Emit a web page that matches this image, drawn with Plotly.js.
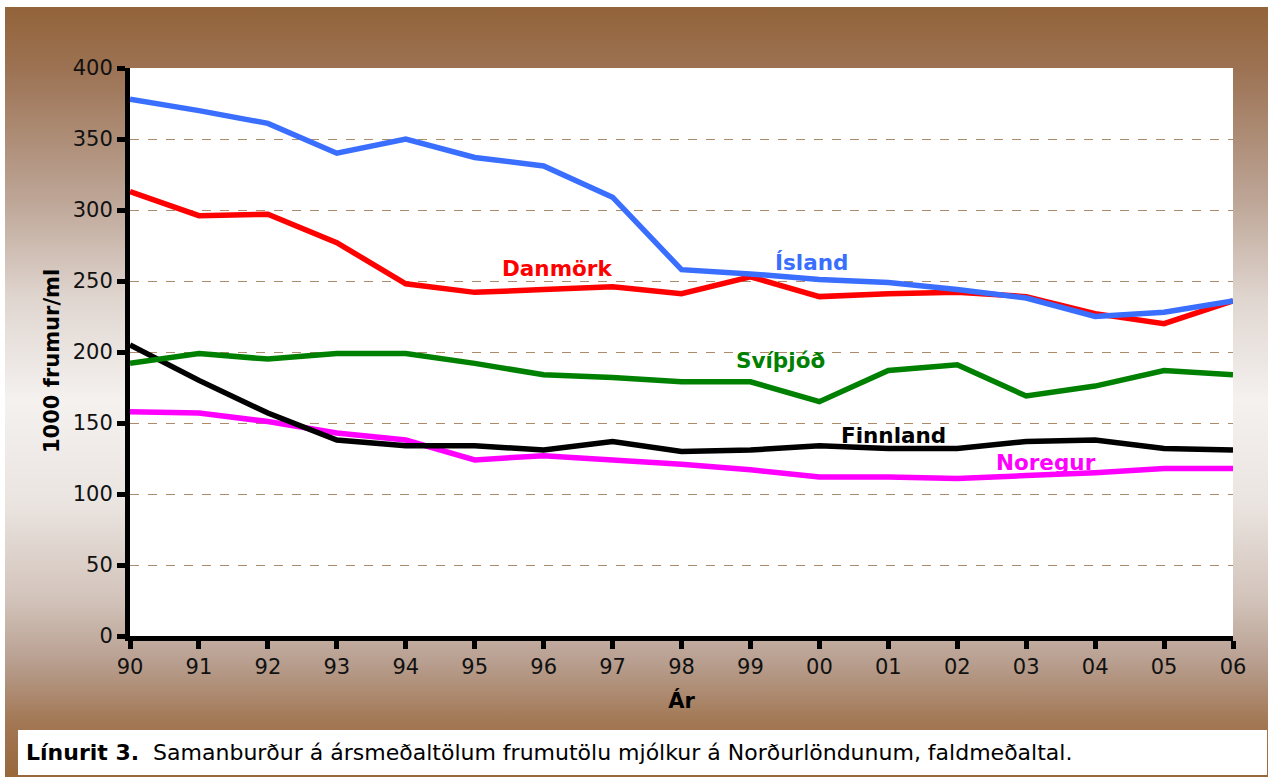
<!DOCTYPE html>
<html>
<head>
<meta charset="utf-8">
<script src="https://cdn.plot.ly/plotly-3.0.1.min.js"></script>
<style>
  html, body { margin:0; padding:0; background:#ffffff; width:1272px; height:781px; overflow:hidden; }
  #bg { position:absolute; left:5px; top:7px; width:1263px; height:770px;
        background: linear-gradient(to bottom, #93643a 0%, #9c7253 8%, #bda596 25%, #e0d6d0 38%, #f4f1ef 51%, #ebe5e1 64%, #d2c3ba 77%, #b89f90 85%, #a27753 93%, #98683c 100%); }
  #chart { position:absolute; left:0; top:0; width:1272px; height:781px; }
</style>
</head>
<body>
<div id="bg"></div>
<div id="chart"></div>
<script>
const years = ['90','91','92','93','94','95','96','97','98','99','00','01','02','03','04','05','06'];
const island   = [378, 370, 361, 340, 350, 337, 331, 309, 258, 255, 251, 249, 244, 238, 225, 228, 236];
const danmork  = [313, 296, 297, 277, 248, 242, 244, 246, 241, 253, 239, 241, 242, 239, 227, 220, 236];
const svithjod = [192, 199, 195, 199, 199, 192, 184, 182, 179, 179, 165, 187, 191, 169, 176, 187, 184];
const finnland = [205, 180, 157, 138, 134, 134, 131, 137, 130, 131, 134, 132, 132, 137, 138, 132, 131];
const noregur  = [158, 157, 151, 143, 138, 124, 127, 124, 121, 117, 112, 112, 111, 113, 115, 118, 118];
const seriesNames = ['Noregur', 'Finnland', 'Svíþjóð', 'Danmörk', 'Ísland'];
const seriesValues = [noregur, finnland, svithjod, danmork, island];
const seriesColors = ['#ff00ff', '#000000', '#008000', '#ff0000', '#3a6eff'];
const yTicks = [0, 50, 100, 150, 200, 250, 300, 350, 400];

const F = 'DejaVu Sans, Verdana, sans-serif';
const xIdx = years.map((_, i) => i);

const traces = seriesNames.map((n, k) => ({
  type: 'scatter', mode: 'lines', name: n,
  x: xIdx, y: seriesValues[k],
  line: { color: seriesColors[k], width: 5.5 },
  hoverinfo: 'skip'
}));

const labelPos = [
  { x: 13.29, y: 122.5 }, { x: 11.08, y: 141 }, { x: 9.44, y: 194 },
  { x: 6.19, y: 259 }, { x: 9.89, y: 263 }
];
const annotations = seriesNames.map((n, k) => ({
  x: labelPos[k].x, y: labelPos[k].y, xref: 'x', yref: 'y',
  text: '<b>' + n + '</b>', showarrow: false,
  font: { family: F, size: 21.5, color: seriesColors[k] },
  xanchor: 'center', yanchor: 'middle'
}));
annotations.push({
  xref: 'paper', yref: 'paper', x: (24 - 130) / 1103, y: (636 - 752) / 568,
  xanchor: 'left', yanchor: 'middle', showarrow: false,
  text: '<b>Línurit 3.</b>\u00a0\u00a0Samanburður á ársmeðaltölum frumutölu mjólkur á Norðurlöndunum, faldmeðaltal.',
  font: { family: F, size: 22, color: '#000000' }
});
annotations.push({
  xref: 'paper', yref: 'paper', x: (52 - 130) / 1103, y: (636 - 361) / 568,
  xanchor: 'center', yanchor: 'middle', showarrow: false, textangle: -90,
  text: '<b>1000 frumur/ml</b>',
  font: { family: F, size: 21, color: '#000000' }
});

const layout = {
  width: 1272, height: 781,
  margin: { l: 130, r: 39, t: 68, b: 145 },
  paper_bgcolor: 'rgba(0,0,0,0)',
  plot_bgcolor: '#ffffff',
  showlegend: false,
  font: { family: F, size: 21, color: '#000000' },
  xaxis: {
    range: [0, 16], tickvals: xIdx, ticktext: years,
    showgrid: false, zeroline: false,
    showline: true, linecolor: '#000000', linewidth: 5,
    ticks: 'outside', ticklen: 8, tickwidth: 5, tickcolor: '#000000',
    tickfont: { family: F, size: 21, color: '#111111' },
    title: { text: '<b>Ár</b>', font: { family: F, size: 21 }, standoff: 17 }
  },
  yaxis: {
    range: [0, 400], tickvals: yTicks,
    showgrid: true, gridcolor: '#ad8a6a', griddash: 'dash', gridwidth: 1,
    zeroline: false,
    showline: true, linecolor: '#000000', linewidth: 5,
    ticks: 'outside', ticklen: 8, tickwidth: 5, tickcolor: '#000000',
    tickfont: { family: F, size: 21, color: '#111111' }
  },
  shapes: [{
    type: 'rect', xref: 'paper', yref: 'paper', layer: 'below',
    x0: (18 - 130) / 1103, x1: (1267 - 130) / 1103,
    y0: (636 - 775) / 568, y1: (636 - 730) / 568,
    fillcolor: '#ffffff', line: { width: 0 }
  }],
  annotations: annotations
};

Plotly.newPlot('chart', traces, layout, { displayModeBar: false, staticPlot: true });
</script>
</body>
</html>
